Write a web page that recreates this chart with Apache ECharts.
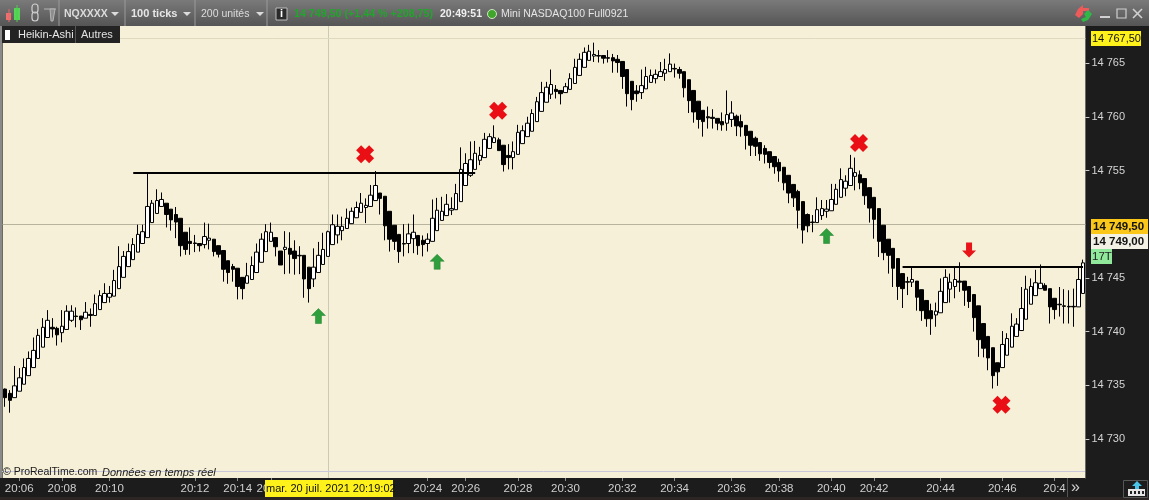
<!DOCTYPE html>
<html><head><meta charset="utf-8">
<style>html,body{margin:0;padding:0;background:#1c1c1c}#c{width:1149px;height:500px}</style>
<script src="https://cdn.jsdelivr.net/npm/echarts@6/dist/echarts.min.js"></script>
</head><body><div id="c"></div>
<script>
// Prices are stored as points above this base level
const priceBase = 14700;
const opens = [
34.65,34.25,33.85,34.45,35.1,35.9,36.65,37.5,38.55,39.45,
40.4,40.3,39.9,40.2,41.05,41.45,41.45,41.25,41.6,41.5,
42.05,42.7,43.2,43.3,44,45.05,46.05,46.7,47.4,48.2,
48.75,50.15,51,51.65,51.95,51.4,50.9,50.55,49.25,48.4,
48.25,48.2,48.1,48.5,48.6,48,47.55,46.6,46.05,45.9,
45.05,44.5,44.85,45.5,46.45,47.45,48.4,48.75,47.5,47.65,
47.75,47.5,47.1,47.1,46,44.9,45.5,46.25,47,48.1,
49,49.4,49.6,50.05,50.6,51.1,51.55,51.65,52.2,52.9,
52.6,51.2,49.9,49.05,48.2,48.2,48.65,48.95,48.5,48.2,
48.4,49.4,50.35,50.8,51.3,51.35,52.1,53.6,54.55,55.1,
55.95,56.2,57.05,57.6,57.85,57.35,56.4,56.2,56.5,57.5,
58.15,58.65,59.55,60.5,61.35,62.1,62.55,62.45,62.25,62.55,
63.1,63.85,64.6,65.25,65.65,65.7,65.7,65.5,65.5,65.35,
65.15,64.4,63.3,62.4,62.25,62.6,63.2,63.55,63.75,64.05,
64.2,64.5,64.4,64.2,63.45,62.45,61.45,60.6,60,59.95,
59.85,59.55,59.4,59.75,60.05,59.55,59.2,58.65,58,57.6,
57.05,56.75,56.3,55.75,55.3,54.55,53.7,53.05,52.1,50.9,
50.2,50.15,50.8,51.2,51.25,51.85,52.5,53.35,53.6,54.45,
54.6,54.25,53.4,52.5,51.45,49.9,48.6,47.75,46.8,45.4,
44.65,44.6,44.7,43.9,42.9,41.95,41.55,41.75,42.7,43.95,
44.2,44.7,44.7,44.2,43.45,42.4,40.75,39.55,38.5,37.1,
36.65,37.8,38.55,39.55,40.1,41.15,42.55,43.35,44,44.3,
44,43.1,42.55,42.4,42.35,42.35,42.3,43.55];
const closes = [
33.85,33.6,34.95,35.7,36.65,37.5,38.25,39.65,40.4,41.05,
40.25,39.7,40.5,41.9,41.9,41.4,41.1,41.8,41.5,42.6,
43.35,43.55,43.55,44.75,46.05,47,47.45,48.1,49.05,49.3,
51.65,51.95,52.2,52.3,50.9,50.4,50.2,48,47.65,48.2,
48.2,48,48.85,48.7,47.45,47.2,45.8,45.5,45.8,44.2,
44,45.2,46.15,47.4,48.6,49.3,49.25,47.9,46.2,47.85,
47.2,46.8,47.05,44.9,44,46,47.1,47.65,49.3,49.95,
49.8,49.8,50.55,51.2,51.55,51.95,51.75,52.7,53.6,52.4,
49.85,48.6,48.4,47.45,48.15,49.1,49.25,48,48.1,48.6,
50.55,51.3,51.2,51.85,51.45,52.85,55.1,55.65,56,56.6,
56.4,57.9,58.15,58.05,56.85,55.55,56.2,56.75,58.55,58.7,
59.4,60.3,61.4,62.25,62.75,63,62.35,62.15,62.8,63.55,
64.6,65.35,66,66.1,65.8,65.65,65.45,65.45,65.2,65.05,
63.75,62.15,61.6,62.15,62.9,63.75,63.85,63.95,64.2,64.4,
64.9,64.45,64.05,62.7,61.5,60.45,59.75,59.55,59.9,59.85,
59.4,59.25,60.2,60.35,59.15,59.05,58.25,57.35,57.25,56.55,
56.5,55.75,55.35,54.95,53.85,52.9,52.45,51.3,49.45,49.85,
50.15,51.35,51.45,51.4,52.3,53.25,54.15,54,55.2,54.8,
53.85,52.65,51.5,50.45,48.4,47.35,47.1,45.9,44.2,44,
44.6,44.85,43.2,41.95,41.2,41.2,41.9,43.75,45.05,44.6,
44.85,44.6,43.85,42.8,41.3,39.25,38.45,37.55,35.9,36.25,
38.8,39.35,40.5,40.7,42.15,43.95,44.2,44.55,44.5,43.85,
42.3,42.05,42.5,42.35,42.3,42.3,44.85,46.4];
const lows = [
33,32.45,33.85,34.45,35.1,35.9,36.65,37.5,38.55,39.45,
39.45,38.7,39,40.2,40.9,40.4,40.15,41.25,40.45,41.5,
42.05,42.7,42.7,43.3,44,45.05,46.05,46.7,47.4,48.2,
48.75,50.15,51,51.65,49.7,49.4,48.7,47,47.15,47.15,
47.4,47.45,47.75,47.65,47,46.9,44.65,44.45,44.65,43,
43,44.5,44.85,45.5,46.45,47.45,48.4,47,46.2,45.35,
45.4,45.3,45.35,43.15,42.7,44.15,45.5,46.25,47,48.1,
48.2,48.5,49.6,50.05,50.6,51.1,50.1,51.65,52.2,50.9,
48.5,47.45,47.6,46.4,47,47.3,47.3,47.15,47,47.45,
48.4,49.4,50.35,50.8,50.85,51.35,52.1,53.6,54.4,55.1,
55.5,56.2,57.05,57.6,56.85,54.9,55.1,55.1,56.5,57.5,
58.15,58.65,59.55,60.5,61.35,61.65,61.7,61.15,62.25,62.55,
63.1,63.85,64.6,65.25,65.1,65.05,64.95,65.05,64.1,64.1,
62.6,60.95,60.6,61.4,61.65,62.6,63.2,63.1,63.75,63.35,
64.2,63.65,63.55,61.8,60.35,59.45,58.9,58.15,58.9,58.9,
58.75,58.7,58.7,59.05,58.2,58.15,56.95,56.35,56.35,55.9,
55.65,55.2,54.7,53.95,53.15,51.95,51.6,49.6,48.2,49.25,
49.25,50.15,50.4,50.6,51.25,51.85,52.5,52.6,53.6,53.15,
53.25,51.8,50.15,48.65,46.95,46.65,45.4,44.15,42.95,42.2,
43.4,44.15,41.95,41,40.45,39.7,40.45,41.75,42.7,42.7,
43.1,43.7,42.4,42.2,40,37.65,37.6,36.4,34.7,34.95,
36.65,37.8,38.55,39.55,40.1,41.15,42.55,43.35,44,43.85,
40.75,41.15,41.4,40.75,40.75,40.45,42.3,43.55];
const highs = [
34.7,34.55,36.8,36.6,37.5,38.15,39.45,40.25,41.25,42,
41.25,40.45,42,42.45,42.45,42.25,41.45,42.75,42.15,43.45,
43.85,44.5,44.25,45.75,47.95,47.5,48.2,48.7,49.95,49.95,
54.75,52.25,53.25,52.95,51.95,51.4,51.6,50.55,49.25,49.7,
49,48.2,50.15,50.05,48.6,48,47.55,46.6,46.3,45.9,
45.05,46.4,47,48.2,49.15,50,50.15,48.75,47.5,49.35,
49.25,48.5,47.95,47.1,46,47.75,48.35,49.2,49.4,50.9,
50.9,50.7,51.45,51.55,52.1,52.9,52.4,53.65,54.95,52.9,
52.6,51.2,49.9,49.05,50,50.05,50.9,48.95,48.95,49.15,
52.3,52.45,52.55,52.8,52.5,53.75,57.15,56.6,57.7,57.75,
57.2,58.5,58.45,59.2,58.05,57.35,57.45,57.7,59.25,59.2,
60,60.7,61.85,63.25,63.25,64.4,62.95,62.45,63.15,64.05,
65.4,65.9,66.45,66.7,66.9,66.2,65.7,66.2,65.85,65.75,
65.15,64.4,63.3,62.95,64.4,64.65,64.4,64.4,65.1,65.4,
65.9,64.95,64.65,64.2,63.45,62.45,61.45,60.6,60.95,60.7,
59.85,60.4,62.45,61.45,60.2,60.2,59.2,58.65,58.15,57.6,
57.35,56.75,56.3,56.1,55.3,54.55,53.7,53.2,52.1,51,
50.85,52.5,52.25,52.25,53.75,53.75,55.2,54.55,56.45,56.2,
55,54.25,53.4,52.5,51.45,49.9,48.6,47.75,46.8,45.4,
45.1,45.95,44.7,43.9,42.9,42.6,42.7,44.95,45.8,45.4,
45.95,46.45,44.7,44.2,43.45,42.4,40.75,39.55,38.5,37.1,
40.05,39.85,41.7,41.25,44.15,45.2,44.95,45.75,46.25,44.5,
44,43.1,44.15,43.95,43.85,44,46,46.7];

const timeTickIndex = [3,12,22,40,49,56,89,97,108,118,130,141,153,163,174,183,197,210,221];
const timeTickLabel = ['20:06','20:08','20:10','20:12','20:14','20:16','20:24','20:26','20:28','20:30','20:32','20:34','20:36','20:38','20:40','20:42','20:44','20:46','20:4'];
const priceTicks = [14730,14735,14740,14745,14755,14760,14765];

const resistanceLevel = [14754.75, 14746];
const resistanceFrom = [27, 189];
const resistanceTo = [99, 227];
const crossIdx = [76, 104, 180, 210];
const crossPrice = [14756.5, 14760.55, 14757.55, 14733.2];
const upArrowIdx = [66, 91, 173];
const upArrowPrice = [14741.45, 14746.5, 14748.9];
const downArrowIdx = [203];
const downArrowPrice = [14747.6];
const crosshairIdx = 68, crosshairPrice = 14750, topPrice = 14767.3;

const categories = opens.map((_, i) => String(i));
const tickLookup = new Map(timeTickIndex.map((ix, k) => [ix, timeTickLabel[k]]));
const candleData = opens.map((o, i) => [priceBase + o, priceBase + closes[i], priceBase + lows[i], priceBase + highs[i]]);
const pairs = (xs, ys) => xs.map((x, i) => [x, ys[i]]);
const tickFn = i => tickLookup.has(i);

const FONT = '"Liberation Sans", Arial, sans-serif';
const el = [];
const rect = (x, y, w, h, fill, extra) => el.push({type:'rect', z:100, silent:true, shape:{x,y,width:w,height:h}, style:Object.assign({fill}, extra||{})});
const text = (t, x, y, fill, font, extra) => el.push({type:'text', z:101, silent:true, style:Object.assign({text:t, x, y, fill, font: font + ' ' + FONT, verticalAlign:'middle'}, extra||{})});
const line = (x1,y1,x2,y2,stroke,w) => el.push({type:'line', z:101, silent:true, shape:{x1,y1,x2,y2}, style:{stroke, lineWidth:w||1}});
const poly = (pts, fill, stroke, w) => el.push({type:'polygon', z:101, silent:true, shape:{points:pts}, style:{fill, stroke:stroke||null, lineWidth:w||0}});
const pline = (pts, stroke, w) => el.push({type:'polyline', z:101, silent:true, shape:{points:pts}, style:{fill:null, stroke, lineWidth:w||1}});
const circ = (cx, cy, r, fill, stroke, w) => el.push({type:'circle', z:101, silent:true, shape:{cx,cy,r}, style:{fill, stroke:stroke||null, lineWidth:w||0}});

// toolbar
rect(0,0,1149,26,{type:'linear',x:0,y:0,x2:0,y2:1,colorStops:[{offset:0,color:'#7a7a7a'},{offset:1,color:'#555555'}]});
rect(0,26,2,452,'#8a8a8a');
rect(0,497,1149,3,'#2b2623');
// candles icon
line(9,9,9,22,'#e86a6a',1); rect(6,13,5,7,'#ef6f6f');
line(17,5,17,22,'#4fce4f',1); rect(14,8,6,12,'#55d455');
// link icon
el.push({type:'rect',z:101,silent:true,shape:{x:32,y:4,width:6,height:9,r:3},style:{fill:null,stroke:'#cfcfcf',lineWidth:1.2}});
el.push({type:'rect',z:101,silent:true,shape:{x:32,y:12,width:6,height:9,r:3},style:{fill:null,stroke:'#cfcfcf',lineWidth:1.2}});
// cursor icon
pline([[44,9],[56,9]],'#b5b5b5',1); poly([[50,9],[55,9],[53,21],[51,21]],'#8d8d8d','#b5b5b5',1);
line(59,0,59,26,'#9a9a9a'); line(125,0,125,26,'#9a9a9a'); line(195,0,195,26,'#9a9a9a'); line(267,0,267,26,'#9a9a9a');
text('NQXXXX',64,14,'#dcdcdc','bold 10.5px');
poly([[111,12],[119,12],[115,16]],'#dcdcdc');
text('100 ticks',131,14,'#e6e6e6','bold 11px');
poly([[183,12],[191,12],[187,16]],'#dcdcdc');
text('200 unités',201,14,'#dcdcdc','10.5px');
poly([[256,12],[264,12],[260,16]],'#dcdcdc');
rect(276,8,11,12,'#2b2b2b',{stroke:'#bdbdbd',lineWidth:1});
text('i',280,14,'#ffffff','bold 11px');
text('14 749,50 (+1,44 % +208,75)',294,14,'#22a52c','bold 10.7px');
text('20:49:51',440,14,'#f0f0f0','bold 10.5px');
circ(492,14,4.5,'#3fa62b','#cfe8c0',1);
text('Mini NASDAQ100 Full0921',501,14,'#e4e4e4','10.5px');
// refresh + window controls
poly([[1078,9],[1083,5],[1083,8],[1089,8],[1089,11],[1083,11],[1083,14],[1079,18],[1075,15]],'#ee5a5a');
poly([[1088,10],[1092,14],[1088,20],[1083,22],[1081,19],[1086,17],[1084,14]],'#2fb845');
line(1100,17,1110,17,'#d0d0d0',2);
rect(1117,9,9,9,'none',{stroke:'#d0d0d0',lineWidth:1.2});
line(1133,9,1142,18,'#d0d0d0',1.6); line(1142,9,1133,18,'#d0d0d0',1.6);
// study tag
rect(2,26,118,17,'#232323');
rect(5,30,5,10,'#ffffff');
text('Heikin-Ashi',18,35,'#e8e8e8','11px');
line(75.5,26,75.5,43,'#555555');
text('Autres',81,35,'#e0e0e0','11px');
// watermark + lavender line
line(2,471.5,1085,471.5,'#c9c8dc');
text('© ProRealTime.com',3,472.5,'#1a1a1a','10.5px');
text('Données en temps réel',102,472.5,'#1a1a1a','italic 11px');
// yellow date label
rect(265,480,128,17,'#fff21a');
text('mar. 20 juil. 2021 20:19:02',266,488.5,'#111111','11px');
// price labels
rect(1091,31,50,15,'#fff21a');
text('14 767,50',1092,38.5,'#111111','11px');
rect(1091,219,57,15,'#fbc718');
text('14 749,50',1093,226.5,'#111111','bold 11.5px');
rect(1091,234,57,15,'#f3f1e4');
text('14 749,00',1093,241.5,'#111111','bold 11.5px');
rect(1091,249,21,15,'#90e89a');
text('17T',1092,256.5,'#222222','11.5px');
// bottom-right
rect(1068,478,17,19,'#1c1c1c');
line(1067.5,478,1067.5,497,'#555555');
text('»',1071,487.5,'#cfcfcf','16px');
rect(1123.5,480.5,24,17,'none',{stroke:'#555555',lineWidth:1});
poly([[1137,481],[1142,486],[1139,486],[1139,489],[1135,489],[1135,486],[1132,486]],'#49c3e8');
rect(1128,489,17,7,'#e6e6e6');
[1130,1134,1138,1142].forEach(x => rect(x,491,2,3,'#222222'));

const option = {
  animation:false,
  backgroundColor:'#1c1c1c',
  grid:{left:2.63, top:26, width:1082.77, height:452, show:true, backgroundColor:'#f5f0d7', borderWidth:0},
  xAxis:{type:'category', data:categories, boundaryGap:true,
    axisLine:{show:false},
    axisTick:{show:true, alignWithLabel:true, interval:tickFn, length:3, lineStyle:{color:'#8f8f8f'}},
    axisLabel:{show:true, interval:tickFn, margin:5, color:'#cfcfcf', fontFamily:FONT, fontSize:11.5, hideOverlap:false,
      formatter:(v, i) => tickLookup.get(Number(v)) || ''},
    splitLine:{show:false}},
  yAxis:{type:'value', position:'right', min:14726.37, max:14768.45,
    axisLine:{show:true, lineStyle:{color:'#6a6a6a'}},
    axisTick:{show:true, length:4, customValues:priceTicks, lineStyle:{color:'#cccccc'}},
    axisLabel:{show:true, margin:6, color:'#d4d4d4', fontFamily:FONT, fontSize:11, padding:[3,0,0,0], customValues:priceTicks,
      formatter:v => String(v).replace(/^(\d\d)(\d+)/, '$1 $2')},
    splitLine:{show:false}},
  graphic:{elements:el},
  series:[
    {type:'line', data:[], z:1, silent:true, markLine:{z:1, silent:true, symbol:'none', animation:false, label:{show:false},
      data:[
        {xAxis:crosshairIdx, lineStyle:{color:'#cdc9b6', width:1, type:'solid'}},
        {yAxis:crosshairPrice, lineStyle:{color:'#b8b39c', width:1, type:'solid'}},
        {yAxis:topPrice, lineStyle:{color:'#dedac0', width:1, type:'solid'}}
      ]}},
    {type:'candlestick', data:candleData, barWidth:4, z:2, silent:true,
      itemStyle:{color:'#ffffff', color0:'#000000', borderColor:'#000000', borderColor0:'#000000', borderWidth:1},
      markLine:{silent:true, symbol:'none', animation:false, label:{show:false},
        lineStyle:{color:'#000000', width:2, type:'solid'},
        data:resistanceLevel.map((v, i) => [{coord:[resistanceFrom[i], v]}, {coord:[resistanceTo[i], v]}])}},
    {type:'scatter', z:6, silent:true, data:pairs(crossIdx, crossPrice), symbolSize:[18,18], symbolOffset:[-0.8,0], itemStyle:{color:'#ea0f14', opacity:1},
      symbol:'path://M5 0 L9 4 L13 0 L18 5 L14 9 L18 13 L13 18 L9 14 L5 18 L0 13 L4 9 L0 5 Z'},
    {type:'scatter', z:6, silent:true, data:pairs(upArrowIdx, upArrowPrice), symbolSize:[14,15], itemStyle:{color:'#2f9e3c', borderColor:'#1f7f2c', borderWidth:0.5, opacity:1},
      symbol:'path://M7 0 L14 7 L10 7 L10 15 L4 15 L4 7 L0 7 Z'},
    {type:'scatter', z:6, silent:true, data:pairs(downArrowIdx, downArrowPrice), symbolSize:[14,15], itemStyle:{color:'#e8141a', opacity:1},
      symbol:'path://M4 0 L10 0 L10 8 L14 8 L7 15 L0 8 L4 8 Z'}
  ]
};
echarts.init(document.getElementById('c'), null, {renderer:'canvas'}).setOption(option);
</script></body></html>
